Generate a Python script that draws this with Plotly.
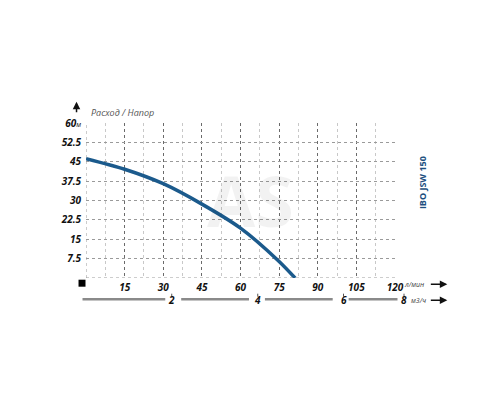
import plotly.graph_objects as go

# Расход (л/мин) / Напор (м) — IBO JSW 150
flow = [0, 15, 30, 45, 60, 75, 81.2]
head = [46.2, 42.1, 36.5, 28.6, 19.3, 6.4, 0]

x_ticks = [15, 30, 45, 60, 75, 90, 105, 120]
y_ticks = [7.5, 15, 22.5, 30, 37.5, 45, 52.5, 60]
y_labels = ["7.5", "15", "22.5", "30", "37.5", "45", "52.5", "60<span style='font-size:7px;font-weight:normal'>м</span>"]

m3h_labels = ["2", "4", "6", "8"]
m3h_pos = [33.3, 66.7, 100, 123.5]  # position on the l/min scale

BLUE = "#1b5a8c"
tick_font = dict(family="Open Sans", size=10, color="#111", weight="bold", style="italic")

W, H = 500, 400
OFF = 8  # page body margin
# plot area in screen pixels
L, R, T, B = 85.5, 395.5, 123.3, 278.3


def px(x):
    return (x - L) / (R - L)


def py(y):
    return (B - y) / (B - T)


fig = go.Figure()
fig.add_trace(go.Scatter(x=flow, y=head, mode="lines",
                         line=dict(color=BLUE, width=3.5, shape="spline", smoothing=0.8),
                         hoverinfo="skip", showlegend=False))

fig.update_xaxes(range=[0, 120], tickvals=x_ticks, ticktext=[str(v) for v in x_ticks],
                 tickfont=tick_font, ticks="", ticklabelstandoff=2,
                 showgrid=True, gridcolor="#6a6a6a", griddash="dot", gridwidth=1,
                 minor=dict(dtick=7.5, tick0=0, showgrid=True, gridcolor="#c8c8c8", griddash="dot"),
                 zeroline=False, showline=False, fixedrange=True)
fig.update_yaxes(range=[0, 60], tickvals=y_ticks, ticktext=y_labels,
                 tickfont=tick_font, ticks="", ticklabelstandoff=4,
                 showgrid=True, gridcolor="#9a9a9a", griddash="dot", gridwidth=1,
                 zeroline=False, showline=False, fixedrange=True)

shapes = []
# vertical gridline at 0 and horizontal at 0
shapes.append(dict(type="line", xref="x", yref="y", x0=0, x1=0, y0=0, y1=60,
                   line=dict(color="#9a9a9a", width=1, dash="dot")))
shapes.append(dict(type="line", xref="x", yref="y", x0=0, x1=120, y0=0, y1=0,
                   line=dict(color="#9a9a9a", width=1, dash="dot")))
# black square at origin
shapes.append(dict(type="rect", xref="paper", yref="paper",
                   x0=px(78), x1=px(85), y0=py(287), y1=py(280),
                   fillcolor="black", line=dict(width=0)))
# second scale line (m3/h), broken around labels
for a, b in [(82, 165), (181, 249), (265, 333), (349, 398)]:
    shapes.append(dict(type="line", xref="paper", yref="paper",
                       x0=px(a), x1=px(b), y0=py(299.5), y1=py(299.5),
                       line=dict(color="#8a8a8a", width=2.5)))

ann = []
for lab, p in zip(m3h_labels, m3h_pos):
    xp = L + p * (R - L) / 120
    shapes.append(dict(type="line", xref="paper", yref="paper",
                       x0=px(xp), x1=px(xp), y0=py(297), y1=py(294),
                       line=dict(color="#555", width=1)))
    ann.append(dict(x=px(xp), y=py(300.5), xref="paper", yref="paper", text=lab,
                    showarrow=False, font=tick_font, xanchor="center", yanchor="middle"))
unit_font = dict(family="Open Sans", size=7, color="#444", style="italic")
ann.append(dict(x=px(403), y=py(285), xref="paper", yref="paper", text="л/мин",
                showarrow=False, font=unit_font, xanchor="left", yanchor="middle"))
ann.append(dict(x=px(410), y=py(301), xref="paper", yref="paper", text="м3/ч",
                showarrow=False, font=unit_font, xanchor="left", yanchor="middle"))
# arrows
for y0 in (284.5, 300.5):
    ann.append(dict(x=px(448), y=py(y0), ax=-18, ay=0, xref="paper", yref="paper",
                    text="", showarrow=True,
                    arrowhead=2, arrowsize=1, arrowwidth=1.5, arrowcolor="#111"))
ann.append(dict(x=px(76), y=py(102), ax=0, ay=12, xref="paper", yref="paper",
                text="", showarrow=True,
                arrowhead=2, arrowsize=1, arrowwidth=1.5, arrowcolor="#111"))
ann.append(dict(x=px(89), y=py(113), xref="paper", yref="paper", text="Расход / Напор",
                showarrow=False, font=dict(family="Open Sans", size=9, color="#555", style="italic"),
                xanchor="left", yanchor="middle"))
ann.append(dict(x=px(423), y=py(183), xref="paper", yref="paper", text="IBO JSW 150",
                showarrow=False, textangle=-90,
                font=dict(family="Open Sans", size=9, color="#1d4f80", weight="bold"),
                xanchor="center", yanchor="middle"))
# watermark
ann.append(dict(x=px(251), y=py(200), xref="paper", yref="paper", text="AS",
                showarrow=False,
                font=dict(family="Open Sans", size=70, color="rgba(0,0,0,0.05)", weight="bold"),
                xanchor="center", yanchor="middle"))

fig.update_layout(width=W, height=H, paper_bgcolor="white", plot_bgcolor="white",
                  margin=dict(l=L - OFF, r=W - R + OFF, t=T - OFF, b=H - B + OFF),
                  shapes=shapes, annotations=ann, showlegend=False)

fig.write_html("out.html", config={"displayModeBar": False})
